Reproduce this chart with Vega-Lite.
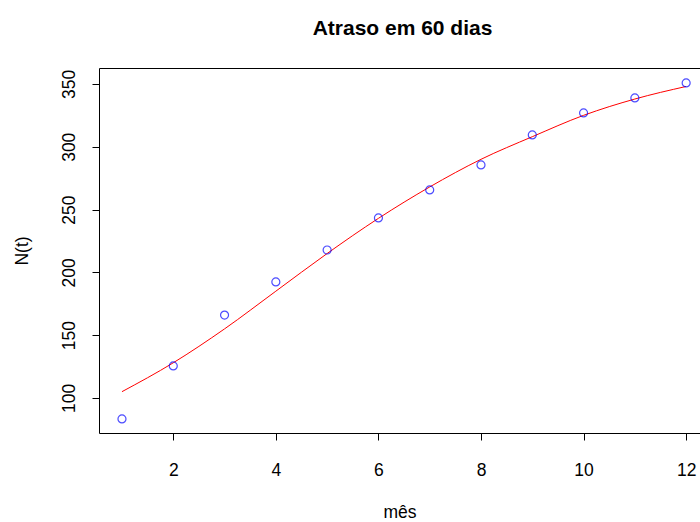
{
  "$schema": "https://vega.github.io/schema/vega-lite/v6.json",
  "width": 601,
  "height": 365,
  "autosize": "none",
  "padding": {"left": 99, "top": 68, "right": 0, "bottom": 89},
  "background": "white",
  "config": {"view": {"stroke": null}, "font": "Liberation Sans"},
  "title": {"text": "Atraso em 60 dias", "fontSize": 21, "fontWeight": "bold", "font": "Liberation Sans", "color": "black", "baseline": "alphabetic", "offset": 12, "dx": 3},
  "datasets": {
    "obs": [
      {"mes": 1, "N": 83.3}, {"mes": 2, "N": 125.5}, {"mes": 3, "N": 166}, {"mes": 4, "N": 192.4},
      {"mes": 5, "N": 217.8}, {"mes": 6, "N": 243.3}, {"mes": 7, "N": 265.6}, {"mes": 8, "N": 285.5},
      {"mes": 9, "N": 309.4}, {"mes": 10, "N": 326.9}, {"mes": 11, "N": 338.9}, {"mes": 12, "N": 350.8}
    ],
    "fit": [
      {"mes": 1, "N": 105}, {"mes": 2, "N": 128}, {"mes": 3, "N": 155}, {"mes": 4, "N": 185},
      {"mes": 5, "N": 215}, {"mes": 6, "N": 243}, {"mes": 7, "N": 268}, {"mes": 8, "N": 290},
      {"mes": 9, "N": 308}, {"mes": 10, "N": 325}, {"mes": 11, "N": 338}, {"mes": 12, "N": 348}
    ]
  },
  "resolve": {"axis": {"x": "independent"}},
  "layer": [
    {
      "data": {"name": "fit"},
      "mark": {"type": "line", "color": "red", "strokeWidth": 1, "interpolate": "monotone"},
      "encoding": {
        "x": {"field": "mes", "type": "quantitative",
          "scale": {"domain": [0.552, 12.27], "nice": false, "zero": false},
          "axis": {"orient": "bottom", "values": [2, 4, 6, 8, 10, 12], "tickSize": 7, "labelPadding": 35, "labelBaseline": "alphabetic",
            "labelFontSize": 17.5, "labelColor": "black", "labelFont": "Liberation Sans", "labelFlush": false, "labelOverlap": false,
            "grid": false, "domainColor": "black", "tickColor": "black",
            "title": "mês", "titleFontSize": 17.5, "titleFontWeight": "normal", "titleColor": "black", "titleFont": "Liberation Sans",
            "titleBaseline": "alphabetic", "titleY": 84}},
        "y": {"field": "N", "type": "quantitative",
          "scale": {"domain": [72.1, 362.7], "nice": false, "zero": false},
          "axis": {"values": [100, 150, 200, 250, 300, 350], "tickSize": 7, "labelAngle": -90, "labelAlign": "center", "labelBaseline": "alphabetic",
            "labelPadding": 18, "labelFontSize": 17.5, "labelColor": "black", "labelFont": "Liberation Sans", "labelFlush": false, "labelOverlap": false,
            "grid": false, "domainColor": "black", "tickColor": "black",
            "title": "N(t)", "titleFontSize": 17.5, "titleFontWeight": "normal", "titleColor": "black", "titleFont": "Liberation Sans",
            "titleAngle": -90, "titleAlign": "center", "titleBaseline": "alphabetic", "titleX": -72, "titleY": 182.5}}
      }
    },
    {
      "data": {"name": "obs"},
      "mark": {"type": "point", "shape": "circle", "filled": false, "color": "blue", "size": 64, "strokeWidth": 1.2},
      "encoding": {
        "x": {"field": "mes", "type": "quantitative",
          "axis": {"orient": "top", "labels": false, "ticks": false, "grid": false, "domain": true, "domainColor": "black", "title": null}},
        "y": {"field": "N", "type": "quantitative"}
      }
    }
  ]
}
